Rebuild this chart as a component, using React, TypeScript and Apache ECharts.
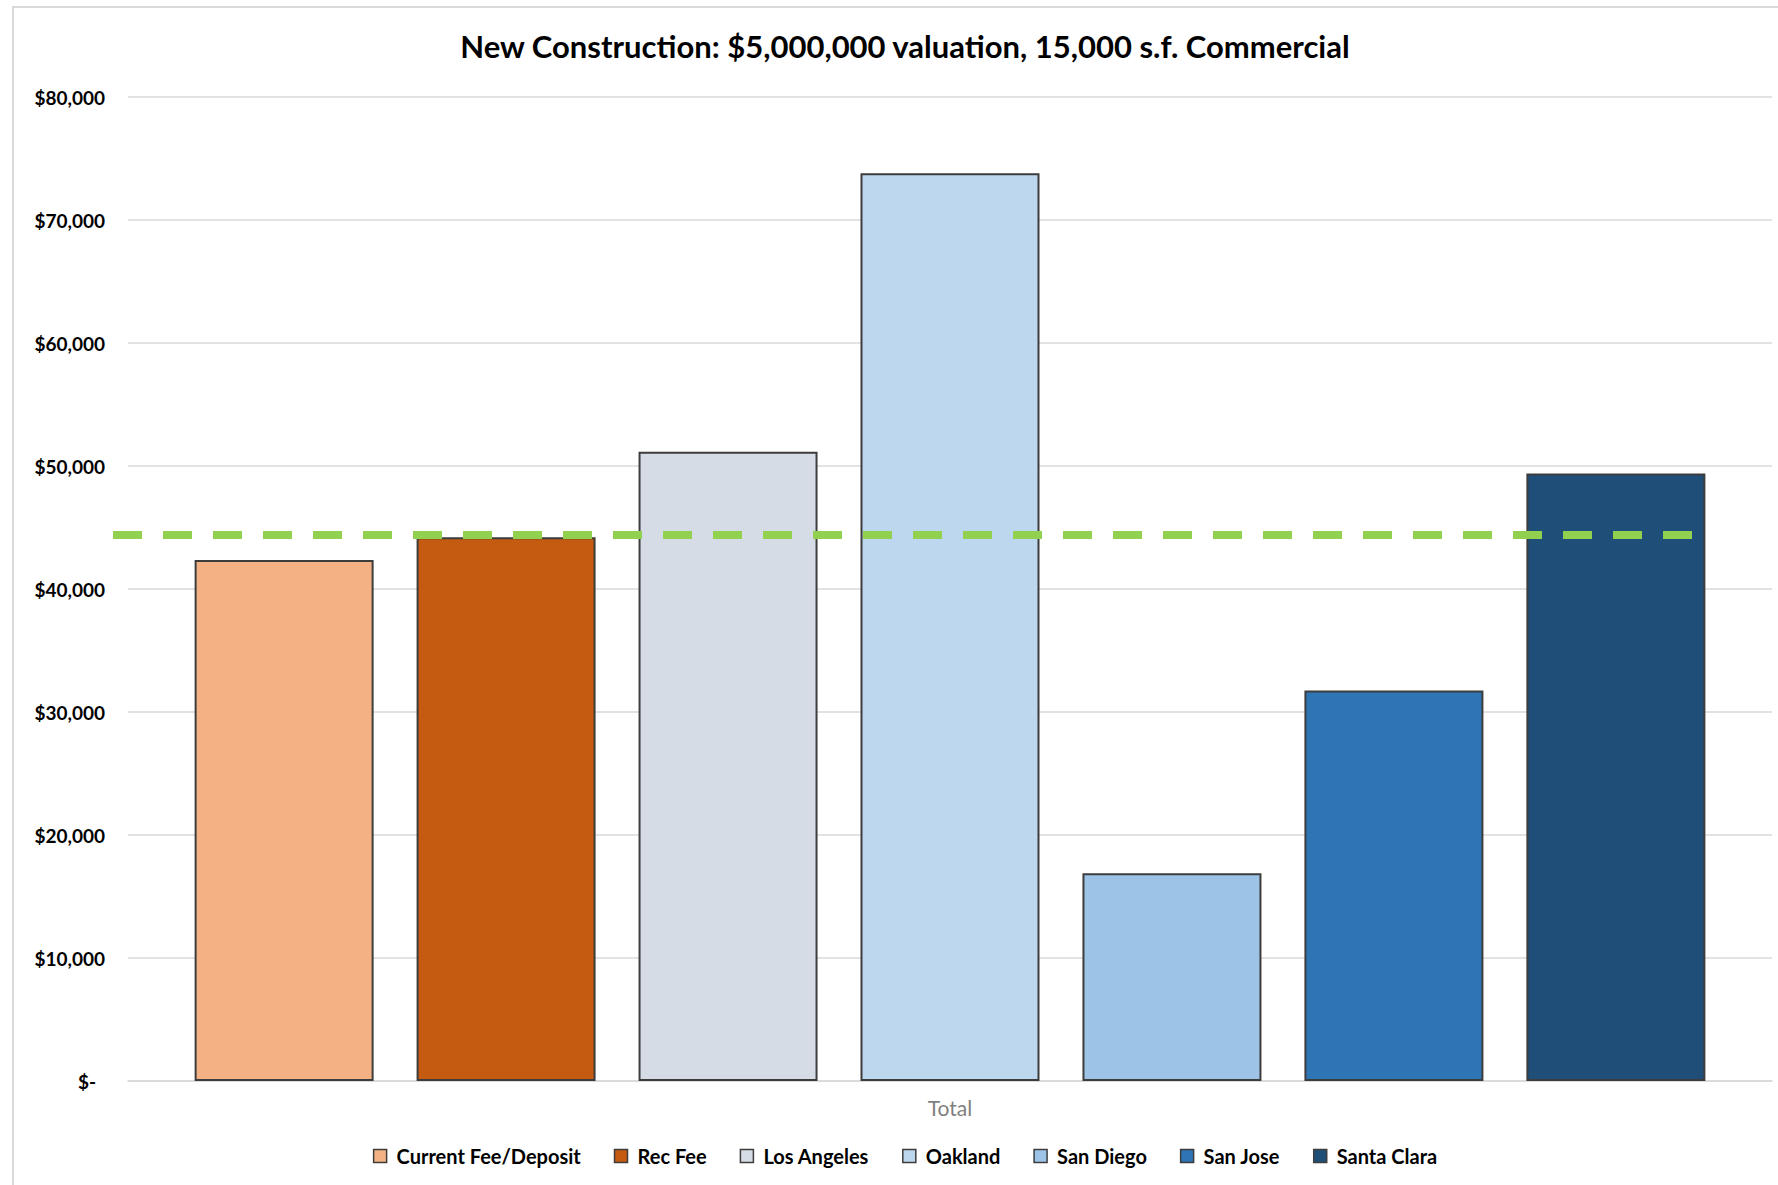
import React, { useEffect, useRef } from "react";
import * as echarts from "echarts";

const titleText = "New Construction: $5,000,000 valuation, 15,000 s.f. Commercial";
const categories = ["Total"];
const seriesNames = ["Current Fee/Deposit", "Rec Fee", "Los Angeles", "Oakland", "San Diego", "San Jose", "Santa Clara"];
const seriesValues = [42350, 44200, 51150, 73800, 16900, 31750, 49400];
const seriesColors = ["#F4B183", "#C55A11", "#D6DCE5", "#BDD7EE", "#9DC3E6", "#2E75B6", "#1F4E79"];
const referenceValue = 44400;
const yMin = 0;
const yMax = 80000;
const yInterval = 10000;

const FONT = "Lato";

export default function App() {
  const ref = useRef<HTMLDivElement>(null);
  useEffect(() => {
    if (!ref.current) return;
    const chart = echarts.init(ref.current, undefined, { renderer: "svg" });
    const bars = seriesNames.map((name, i) => ({
      name,
      type: "bar",
      xAxisIndex: 0,
      yAxisIndex: 0,
      barWidth: 179,
      barGap: "24%",
      data: [seriesValues[i]],
      itemStyle: { color: seriesColors[i], borderColor: "#3d3d3d", borderWidth: 2 },
      emphasis: { disabled: true },
    }));
    chart.setOption({
      animation: false,
      textStyle: { fontFamily: FONT },
      title: {
        text: titleText,
        left: "center",
        top: 28,
        padding: 0,
        textStyle: { fontFamily: FONT, fontSize: 31, fontWeight: "bold", color: "#000", lineHeight: 36 },
      },
      legend: {
        data: seriesNames,
        left: "center",
        top: 1146,
        padding: 0,
        itemWidth: 13,
        itemHeight: 13,
        itemGap: 33,
        icon: "rect",
        itemStyle: { borderColor: "#3d3d3d", borderWidth: 1.5 },
        textStyle: { fontFamily: FONT, fontSize: 20, fontWeight: "bold", color: "#000", padding: [0, 0, 0, 5] },
      },
      graphic: [
        {
          type: "rect",
          z: -10,
          shape: { x: 13, y: 7, width: 2000, height: 1400 },
          style: { fill: "none", stroke: "#D9D9D9", lineWidth: 2 },
        },
      ],
      grid: [
        { left: 128, right: 38, top: 97, bottom: 104 },
        { left: 113, right: 114, top: 97, bottom: 104 },
      ],
      xAxis: [
        {
          type: "category",
          gridIndex: 0,
          data: categories,
          axisLine: { show: true, lineStyle: { color: "#D9D9D9", width: 1.5 } },
          axisTick: { show: false },
          axisLabel: { margin: 16, fontFamily: FONT, fontSize: 21, color: "#7F7F7F" },
        },
        { type: "value", gridIndex: 1, min: 0, max: 1, show: false },
      ],
      yAxis: [
        {
          type: "value",
          gridIndex: 0,
          min: yMin,
          max: yMax,
          interval: yInterval,
          axisLine: { show: false },
          axisTick: { show: false },
          splitLine: { lineStyle: { color: "#D9D9D9", width: 1.5 } },
          axisLabel: {
            margin: 23,
            fontFamily: FONT,
            fontSize: 19,
            fontWeight: "bold",
            color: "#000",
            formatter: (v: number) => (v === 0 ? "{z|$-}" : "$" + v.toLocaleString("en-US")),
            rich: { z: { fontFamily: FONT, fontSize: 19, fontWeight: "bold", color: "#000", padding: [0, 9, 0, 0] } },
          },
        },
        { type: "value", gridIndex: 1, min: yMin, max: yMax, show: false },
      ],
      series: [
        ...bars,
        {
          name: "Average",
          type: "line",
          xAxisIndex: 1,
          yAxisIndex: 1,
          symbol: "none",
          z: 5,
          data: [
            [0, referenceValue],
            [1, referenceValue],
          ],
          lineStyle: { color: "#92D050", width: 8, type: [29, 21], cap: "butt" },
          emphasis: { disabled: true },
        },
      ],
    });
    return () => chart.dispose();
  }, []);
  return (
    <div style={{ position: "fixed", left: 0, top: 0, width: 1778, height: 1185, overflow: "hidden", background: "#fff" }}>
      <div ref={ref} style={{ width: 1810, height: 1185 }} />
    </div>
  );
}
